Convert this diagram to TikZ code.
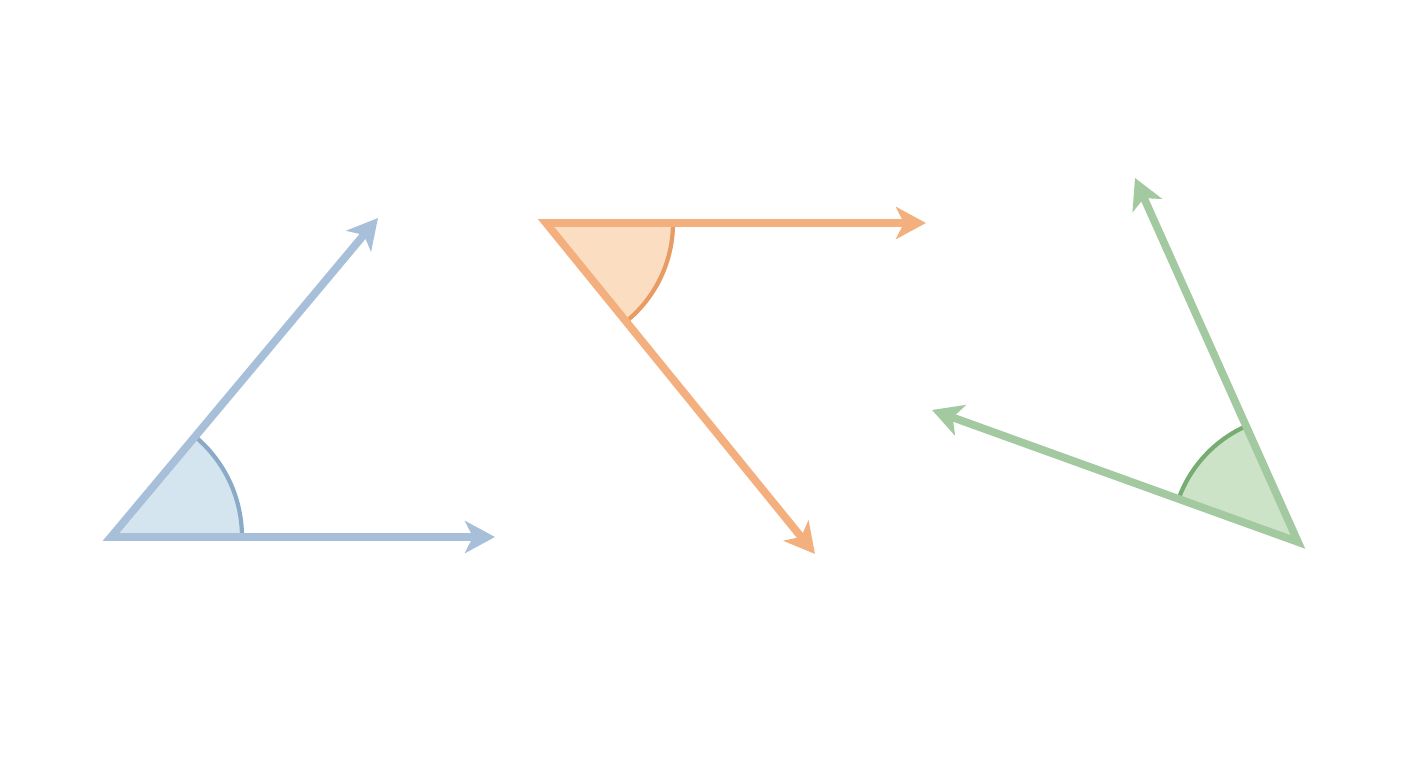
\documentclass[tikz,border=0pt]{standalone}
\usetikzlibrary{arrows.meta}
\definecolor{bline}{HTML}{A7BFD8}
\definecolor{bfill}{HTML}{D5E5EF}
\definecolor{barc}{HTML}{8BAAC8}
\definecolor{oline}{HTML}{F3B07E}
\definecolor{ofill}{HTML}{FBDDC1}
\definecolor{oarc}{HTML}{E89B62}
\definecolor{gline}{HTML}{A3C9A0}
\definecolor{gfill}{HTML}{CDE3C8}
\definecolor{garc}{HTML}{77AC73}
\tikzset{
  ray/.style={line width=2.2pt, line join=miter, miter limit=20,
    {Stealth[length=3mm,width=3.2mm,inset=0.8mm]}-{Stealth[length=3mm,width=3.2mm,inset=0.8mm]}},
  anglearc/.style={line width=1.2pt}
}
\begin{document}
\begin{tikzpicture}
\useasboundingbox[fill=white] (0,0) rectangle (14.08,7.68);
% blue
\coordinate (bV) at (1.11,2.31);
\coordinate (bA) at (3.78,5.50);
\coordinate (bB) at (4.95,2.31);
\fill[bfill] (bV) -- ++(0:1.31) arc[start angle=0,end angle=50.1,radius=1.31] -- cycle;
\draw[anglearc,barc] ([shift={(0:1.31)}]bV) arc[start angle=0,end angle=50.1,radius=1.31];
\draw[ray,bline] (bA) -- (bV) -- (bB);
% orange
\coordinate (oV) at (5.46,5.45);
\coordinate (oA) at (9.26,5.45);
\coordinate (oB) at (8.15,2.14);
\fill[ofill] (oV) -- ++(0:1.27) arc[start angle=0,end angle=-50.9,radius=1.27] -- cycle;
\draw[anglearc,oarc] ([shift={(0:1.27)}]oV) arc[start angle=0,end angle=-50.9,radius=1.27];
\draw[ray,oline] (oA) -- (oV) -- (oB);
% green
\coordinate (gV) at (12.98,2.26);
\coordinate (gA) at (11.35,5.90);
\coordinate (gB) at (9.32,3.58);
\fill[gfill] (gV) -- ++(114.1:1.27) arc[start angle=114.1,end angle=160.2,radius=1.27] -- cycle;
\draw[anglearc,garc] ([shift={(114.1:1.27)}]gV) arc[start angle=114.1,end angle=160.2,radius=1.27];
\draw[ray,gline] (gA) -- (gV) -- (gB);
\end{tikzpicture}
\end{document}
